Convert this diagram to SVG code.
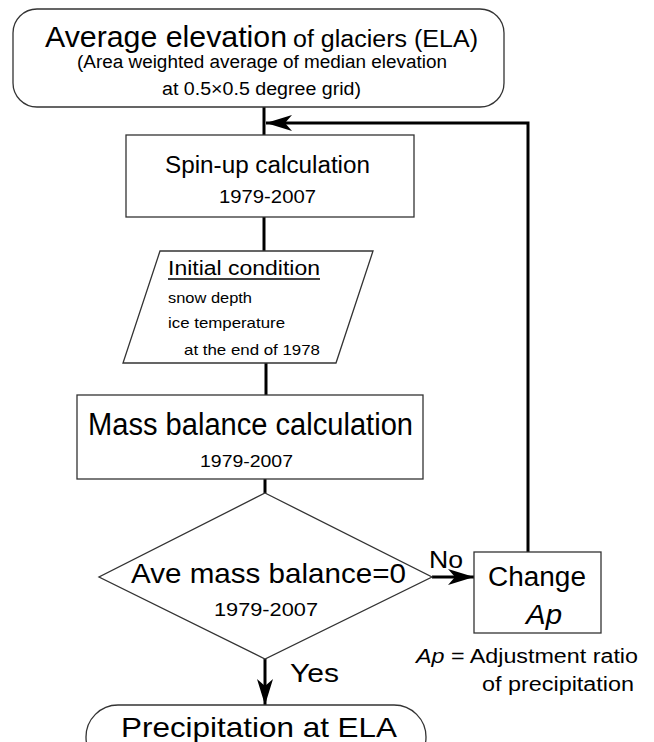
<svg xmlns="http://www.w3.org/2000/svg" width="654" height="742" viewBox="0 0 654 742">
<style>
text{font-family:"Liberation Sans","Noto Sans CJK JP",sans-serif;fill:#000}
.box{fill:#fff;stroke:#333;stroke-width:1.3}
.con{fill:none;stroke:#000;stroke-width:3}
</style>
<defs>
<marker id="ah" markerUnits="userSpaceOnUse" markerWidth="28" markerHeight="18" refX="26" refY="8" orient="auto">
<path d="M0,0 L26,8 L0,16 L7,8 z" fill="#000"/>
</marker>
</defs>
<rect width="654" height="742" fill="#fff"/>
<g id="connectors">
<path class="con" d="M264,107 V135"/>
<path class="con" d="M264,217 V251"/>
<path class="con" d="M266,363 V395"/>
<path class="con" d="M265,479 V493"/>
<path class="con" d="M265,659 V705" marker-end="url(#ah)"/>
<path class="con" d="M432,577 H474" marker-end="url(#ah)"/>
<path class="con" d="M528,552 V123 H266" marker-end="url(#ah)"/>
</g>
<g id="ela">
<rect class="box" x="13" y="9" width="491" height="98" rx="24"/>
<text x="45" y="47" font-size="29" textLength="242" lengthAdjust="spacingAndGlyphs">Average elevation</text>
<text x="293" y="47" font-size="23" textLength="185" lengthAdjust="spacingAndGlyphs">of glaciers (ELA)</text>
<text x="77" y="68" font-size="18" textLength="370" lengthAdjust="spacingAndGlyphs">(Area weighted average of median elevation</text>
<text x="162" y="95" font-size="18" textLength="199" lengthAdjust="spacingAndGlyphs">at 0.5×0.5 degree grid)</text>
</g>
<g id="spinup">
<rect class="box" x="126" y="135" width="288" height="82"/>
<text x="165" y="173" font-size="23" textLength="205" lengthAdjust="spacingAndGlyphs">Spin-up calculation</text>
<text x="219" y="203" font-size="18" textLength="97" lengthAdjust="spacingAndGlyphs">1979-2007</text>
</g>
<g id="initial">
<polygon class="box" points="160,251 373,251 336,363 123,363"/>
<text x="168" y="275" font-size="20" textLength="152" lengthAdjust="spacingAndGlyphs">Initial condition</text>
<line x1="168" y1="279" x2="320" y2="279" stroke="#000" stroke-width="1.3"/>
<text x="168" y="303" font-size="15" textLength="84" lengthAdjust="spacingAndGlyphs">snow depth</text>
<text x="168" y="328" font-size="15" textLength="117" lengthAdjust="spacingAndGlyphs">ice temperature</text>
<text x="184" y="355" font-size="15" textLength="136" lengthAdjust="spacingAndGlyphs">at the end of 1978</text>
</g>
<g id="massbalance">
<rect class="box" x="77" y="395" width="346" height="84"/>
<text x="88" y="435" font-size="31" textLength="325" lengthAdjust="spacingAndGlyphs">Mass balance calculation</text>
<text x="200" y="467" font-size="17" textLength="93" lengthAdjust="spacingAndGlyphs">1979-2007</text>
</g>
<g id="decision">
<polygon class="box" points="265,493 432,577 265,659 99,577"/>
<text x="131" y="583" font-size="28" textLength="275" lengthAdjust="spacingAndGlyphs">Ave mass balance=0</text>
<text x="214" y="616" font-size="18" textLength="104" lengthAdjust="spacingAndGlyphs">1979-2007</text>
</g>
<g id="change">
<rect class="box" x="474" y="552" width="127" height="81"/>
<text x="488" y="586" font-size="27" textLength="98" lengthAdjust="spacingAndGlyphs">Change</text>
<text x="526" y="624" font-size="28" font-style="italic" textLength="36" lengthAdjust="spacingAndGlyphs">Ap</text>
</g>
<g id="precip">
<rect class="box" x="86" y="705" width="340" height="64" rx="32"/>
<text x="121" y="737" font-size="28" textLength="276" lengthAdjust="spacingAndGlyphs">Precipitation at ELA</text>
</g>
<g id="labels">
<text x="429" y="568" font-size="24" textLength="34" lengthAdjust="spacingAndGlyphs">No</text>
<text x="290" y="682" font-size="26" textLength="49" lengthAdjust="spacingAndGlyphs">Yes</text>
<text x="416" y="663" font-size="20" textLength="222" lengthAdjust="spacingAndGlyphs"><tspan font-style="italic">Ap</tspan> = Adjustment ratio</text>
<text x="482" y="691" font-size="20" textLength="152" lengthAdjust="spacingAndGlyphs">of precipitation</text>
</g>
</svg>
